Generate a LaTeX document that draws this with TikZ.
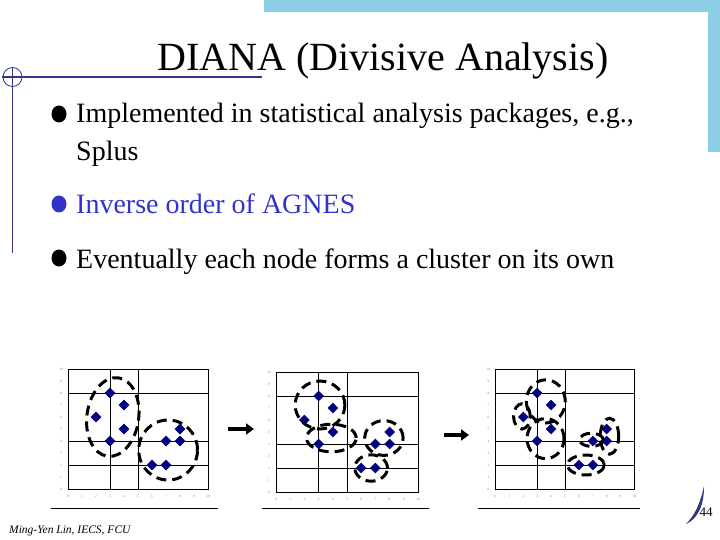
\documentclass[tikz,border=0pt]{standalone}
\usepackage{fontspec}
\setmainfont{Liberation Serif}
\usetikzlibrary{arrows.meta}
\definecolor{navyline}{RGB}{51,51,136}
\definecolor{bandblue}{RGB}{140,206,230}
\definecolor{itemblue}{RGB}{51,51,204}
\definecolor{pointnavy}{RGB}{0,0,128}
\tikzset{
  titletext/.style={anchor=base,inner sep=0pt,font=\fontsize{40}{48}\selectfont},
  itemtext/.style={anchor=base west,inner sep=0pt,font=\fontsize{28}{33.6}\selectfont},
  tickno/.style={inner sep=0pt,font=\fontsize{3.5}{4}\selectfont,text=gray},
  gridline/.style={line width=0.8pt},
  cluster/.style={line width=3pt,dash pattern=on 10pt off 6pt},
  datapoint/.style={fill=pointnavy,draw=pointnavy,line width=0.4pt},
  stepto/.style={-{Triangle[length=8pt,width=11pt]},line width=4.5pt},
}
\begin{document}
\begin{tikzpicture}[x=1pt,y=-1pt]
\path[use as bounding box] (0,0) rectangle (720,540);
% slide frame
\fill[bandblue] (264,0) rectangle (720,12.5);
\fill[bandblue] (708,0) rectangle (720,152);
\draw[navyline,line width=2pt] (2,77) -- (262,77);
\draw[navyline,line width=0.8pt] (12.5,77) circle (9.5);
\draw[navyline,line width=1pt] (12.5,68) -- (12.5,253);
\node[titletext] (title) at (383,71) {DIANA (Divisive Analysis)};
% bullets
\fill (59,114) ellipse [x radius=7.5,y radius=8.5];
\node[itemtext] (item1) at (76,123) {Implemented in statistical analysis packages, e.g.,};
\node[itemtext] (item1b) at (76,161) {Splus};
\fill[itemblue] (59,204) ellipse [x radius=7.5,y radius=8.5];
\node[itemtext,text=itemblue] (item2) at (76,214) {Inverse order of AGNES};
\fill (59,258) ellipse [x radius=7.5,y radius=8.5];
\node[itemtext] (item3) at (76,268) {Eventually each node forms a cluster on its own};
% first split
\begin{scope}[shift={(68,489)},x=14pt,y=12pt]
\draw[gridline] (0,0) rectangle (10,10);
\draw[gridline] (3,0) -- (3,10) (5,0) -- (5,10) (0,2) -- (10,2) (0,4) -- (10,4) (0,8) -- (10,8);
\foreach \t in {0,...,10} {
  \node[tickno] (xa\t) at (\t,-0.65) {\t};
  \node[tickno] (ya\t) at (-0.5,\t) {\t};
}
\foreach \px/\py in {3/8,4/7,2/6,4/5,3/4,7/4,8/4,8/5,6/2,7/2}
  \filldraw[datapoint] (\px,\py) +(-5pt,0) -- +(0,5pt) -- +(5pt,0) -- +(0,-5pt) -- cycle;
\draw[cluster,rotate around={-8:(3.2,6)}] (3.2,6) ellipse [x radius=1.85,y radius=3.3];
\draw[cluster] (7.15,3.25) ellipse [x radius=2.1,y radius=2.5];
\end{scope}
\draw[line width=1pt] (51,508) -- (218,508);
% second split
\begin{scope}[shift={(276,492)},x=14.2pt,y=12pt]
\draw[gridline] (0,0) rectangle (10,10);
\draw[gridline] (3,0) -- (3,10) (5,0) -- (5,10) (0,2) -- (10,2) (0,4) -- (10,4) (0,8) -- (10,8);
\foreach \t in {0,...,10} {
  \node[tickno] (xb\t) at (\t,-0.65) {\t};
  \node[tickno] (yb\t) at (-0.5,\t) {\t};
}
\foreach \px/\py in {3/8,4/7,2/6,4/5,3/4,7/4,8/4,8/5,6/2,7/2}
  \filldraw[datapoint] (\px,\py) +(-5pt,0) -- +(0,5pt) -- +(5pt,0) -- +(0,-5pt) -- cycle;
\draw[cluster] (3.1,7.25) ellipse [x radius=1.75,y radius=2];
\draw[cluster] (3.9,4.5) ellipse [x radius=1.75,y radius=1.15];
\draw[cluster] (7.6,4.5) ellipse [x radius=1.35,y radius=1.45];
\draw[cluster] (6.7,2) ellipse [x radius=1.15,y radius=1.1];
\end{scope}
\draw[line width=1pt] (262,508) -- (429,508);
% third split
\begin{scope}[shift={(495.5,489)},x=13.9pt,y=12pt]
\draw[gridline] (0,0) rectangle (10,10);
\draw[gridline] (3,0) -- (3,10) (5,0) -- (5,10) (0,2) -- (10,2) (0,4) -- (10,4) (0,8) -- (10,8);
\foreach \t in {0,...,10} {
  \node[tickno] (xc\t) at (\t,-0.65) {\t};
  \node[tickno] (yc\t) at (-0.5,\t) {\t};
}
\foreach \px/\py in {3/8,4/7,2/6,4/5,3/4,7/4,8/4,8/5,6/2,7/2}
  \filldraw[datapoint] (\px,\py) +(-5pt,0) -- +(0,5pt) -- +(5pt,0) -- +(0,-5pt) -- cycle;
\draw[cluster] (1.9,6.05) ellipse [x radius=0.6,y radius=1.05];
\draw[cluster] (3.62,7.3) ellipse [x radius=1.4,y radius=1.8];
\draw[cluster] (3.6,4.2) ellipse [x radius=1.33,y radius=1.67];
\draw[cluster] (6.9,4.1) ellipse [x radius=0.85,y radius=0.55];
\draw[cluster] (8.2,4.4) ellipse [x radius=0.66,y radius=1.5];
\draw[cluster] (6.5,2) ellipse [x radius=1.33,y radius=0.83];
\end{scope}
\draw[line width=1pt] (478,508) -- (640,508);
% arrows between splits
\coordinate (gap1a) at (228,429);
\coordinate (gap1b) at (254,429);
\coordinate (gap2a) at (444,435);
\coordinate (gap2b) at (469,435);
\draw[stepto] (gap1a) -- (gap1b);
\draw[stepto] (gap2a) -- (gap2b);
% footer
\fill[navyline] (704,486) .. controls (704,507) and (697,519) .. (686,524)
  .. controls (694,516) and (700,505) .. (704,486) -- cycle;
\node[anchor=base,inner sep=0pt,font=\fontsize{13}{15}\selectfont] (pageno) at (706,516) {44};
\node[anchor=base west,inner sep=0pt,font=\fontsize{11.5}{14}\selectfont\itshape] (footer) at (9,533) {Ming-Yen Lin, IECS, FCU};
\end{tikzpicture}
\end{document}
